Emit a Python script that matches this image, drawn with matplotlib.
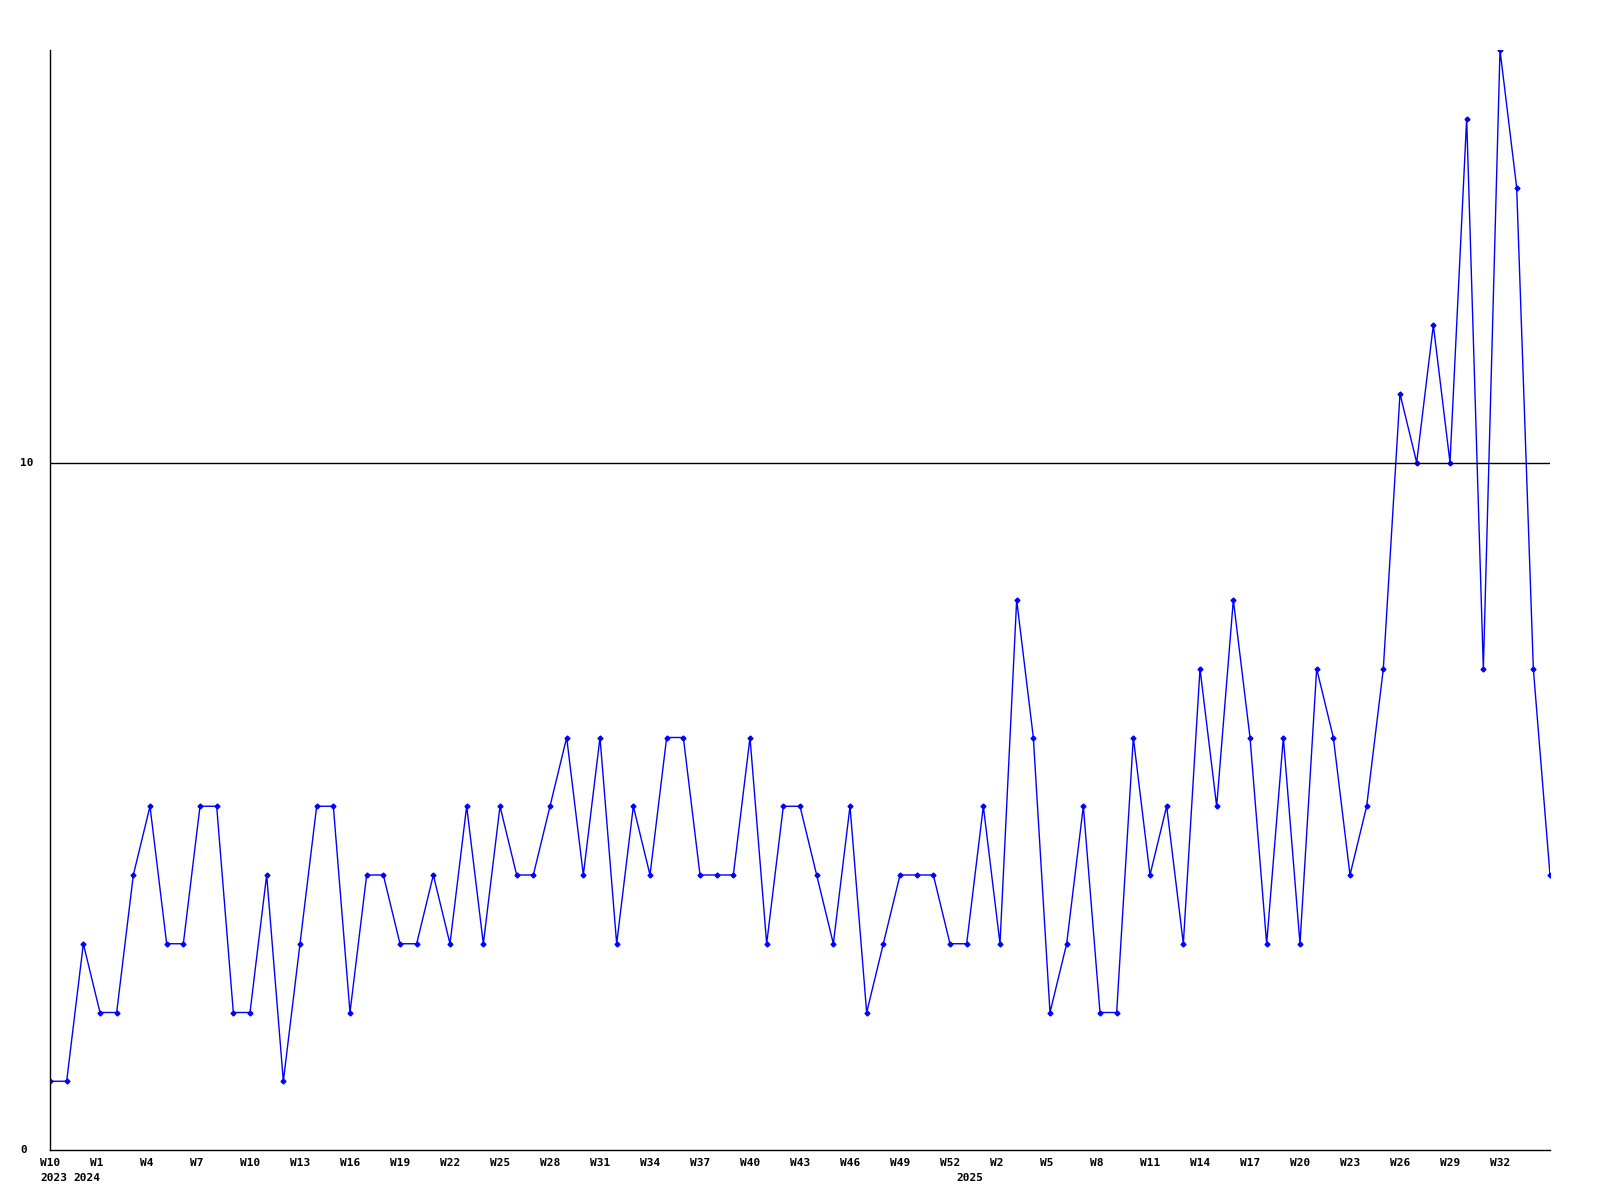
import matplotlib.pyplot as plt
import matplotlib.transforms as mtransforms

# weekly counts, one per week
values = [1, 1, 3, 2, 2, 4, 5, 3, 3, 5, 5, 2, 2, 4, 1, 3, 5, 5, 2, 4,
          4, 3, 3, 4, 3, 5, 3, 5, 4, 4, 5, 6, 4, 6, 3, 5, 4, 6, 6, 4,
          4, 4, 6, 3, 5, 5, 4, 3, 5, 2, 3, 4, 4, 4, 3, 3, 5, 3, 8, 6,
          2, 3, 5, 2, 2, 6, 4, 5, 3, 7, 5, 8, 6, 3, 6, 3, 7, 6, 4, 5,
          7, 11, 10, 12, 10, 15, 7, 16, 14, 7, 4]

week_labels = ['W10', 'W1', 'W4', 'W7', 'W10', 'W13', 'W16', 'W19', 'W22', 'W25',
               'W28', 'W31', 'W34', 'W37', 'W40', 'W43', 'W46', 'W49', 'W52',
               'W2', 'W5', 'W8', 'W11', 'W14', 'W17', 'W20', 'W23', 'W26',
               'W29', 'W32']
week_label_pos = list(range(0, 90, 3))
year_labels = ['2023', '2024', '2025']
year_label_pos = [0, 2, 55]

fig = plt.figure(figsize=(16, 12), dpi=100)
ax = fig.add_axes([50 / 1600, 50 / 1200, 1500 / 1600, 1100 / 1200])

x = list(range(len(values)))
ax.plot(x, values, color='#0000ff', linewidth=1, marker='D', markersize=2.5)
ax.axhline(10, color='black', linewidth=1)

ax.set_xlim(0, len(values) - 1)
ax.set_ylim(0, 16)
ax.spines['top'].set_visible(False)
ax.spines['right'].set_visible(False)
ax.spines['left'].set_linewidth(1)
ax.spines['bottom'].set_linewidth(1)
ax.set_xticks([])
ax.set_yticks([])

font = dict(family='DejaVu Sans Mono', fontweight='bold', fontsize=8)

# y labels
ytrans = mtransforms.blended_transform_factory(fig.transFigure, ax.transData)
for v in [0, 10]:
    ax.text(20 / 1600, v, str(v), transform=ytrans, ha='left', va='center', **font)

# week / year labels under the axis
wtrans = mtransforms.offset_copy(ax.get_xaxis_transform(), fig=fig, x=-10, y=-8, units='dots')
for p, lab in zip(week_label_pos, week_labels):
    ax.text(p, 0, lab, transform=wtrans, ha='left', va='top', **font)
ytrans2 = mtransforms.offset_copy(ax.get_xaxis_transform(), fig=fig, x=-10, y=-23, units='dots')
for p, lab in zip(year_label_pos, year_labels):
    ax.text(p, 0, lab, transform=ytrans2, ha='left', va='top', **font)

fig.savefig('out.png', dpi=100)
